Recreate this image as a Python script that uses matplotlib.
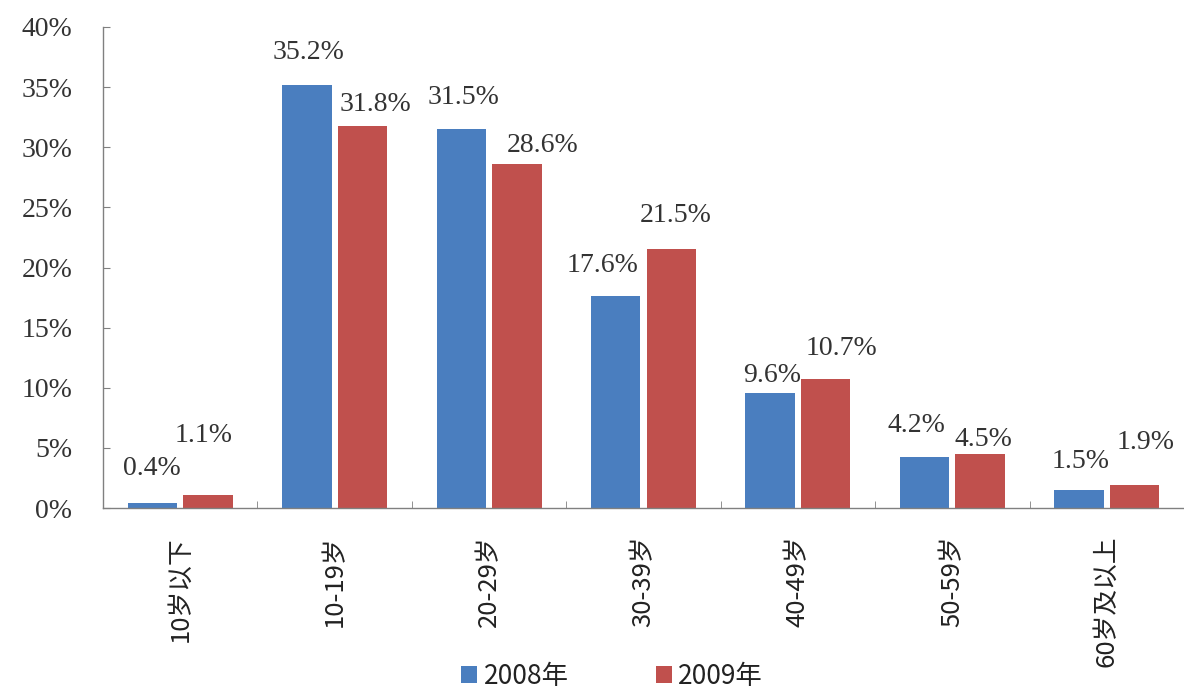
import matplotlib
matplotlib.use("Agg")
import matplotlib.pyplot as plt
import numpy as np
from matplotlib.ticker import FuncFormatter, FixedLocator

categories = ['10岁以下', '10-19岁', '20-29岁', '30-39岁', '40-49岁', '50-59岁', '60岁及以上']
series_names = ['2008年', '2009年']
v2008 = [0.4, 35.2, 31.5, 17.6, 9.6, 4.2, 1.5]
v2009 = [1.1, 31.8, 28.6, 21.5, 10.7, 4.5, 1.9]

# label offsets (pixels: dx from bar centre, dy above bar top)
off2008 = [(-1, 35), (2, 32), (2, 32), (-13, 31), (2, 17), (-8, 32), (2, 28)]
off2009 = [(-4, 59), (13, 21), (26, 19), (4, 34), (16, 31), (3, 14), (11, 43)]

BLUE = '#4a7ebf'
RED = '#c0504d'
SERIF = ['Liberation Serif', 'DejaVu Serif']
SANS = ['Noto Sans CJK SC', 'DejaVu Sans']

dpi = 100
fig = plt.figure(figsize=(11.84, 6.92), dpi=dpi)
fig.patch.set_facecolor('white')

ax = fig.add_axes([103 / 1184, 1 - 508 / 692, 1 - 103 / 1184, (508 - 27) / 692])
ax.patch.set_alpha(0)

x = np.arange(len(categories))
w = 0.32
b1 = ax.bar(x - 0.18, v2008, width=w, color=BLUE, label=series_names[0], zorder=2)
b2 = ax.bar(x + 0.18, v2009, width=w, color=RED, label=series_names[1], zorder=2)

ax.set_xlim(-0.5, len(categories) - 0.5)
ax.set_ylim(0, 40)
ax.yaxis.set_major_locator(FixedLocator(np.arange(0, 41, 5)))
ax.yaxis.set_major_formatter(FuncFormatter(lambda v, p: f'{v:.0f}%'))
ax.set_xticks(x)
ax.set_xticklabels(categories, rotation=90, family=SANS, fontsize=18.5, color='#222222')
ax.tick_params(axis='x', length=0, pad=20)
ax.xaxis.set_minor_locator(FixedLocator(np.arange(0.5, len(categories) - 0.5, 1)))
ax.tick_params(axis='x', which='minor', direction='in', length=5, color='#808080')
ax.tick_params(axis='y', direction='in', length=5, color='#808080', pad=22, labelsize=20,
               labelcolor='#333333')
for lab in ax.get_yticklabels():
    lab.set_family(SERIF)

for s in ['top', 'right']:
    ax.spines[s].set_visible(False)
for s in ['left', 'bottom']:
    ax.spines[s].set_color('#808080')
    ax.spines[s].set_linewidth(1.0)

pt = 72 / dpi
for bars, vals, offs in [(b1, v2008, off2008), (b2, v2009, off2009)]:
    for bar, v, (dx, dy) in zip(bars, vals, offs):
        ax.annotate(f'{v:.1f}%', xy=(bar.get_x() + bar.get_width() / 2, v),
                    xytext=(dx * pt, dy * pt), textcoords='offset points',
                    ha='center', va='center', fontsize=20, family=SERIF, color='#333333',
                    zorder=3)

leg = fig.legend(handles=[b1, b2], labels=series_names, loc='center', bbox_to_anchor=(0.517, 1 - 676 / 692),
                 ncol=2, frameon=False, prop={'family': SANS, 'size': 19},
                 handlelength=0.6, handleheight=0.6, handletextpad=0.25, columnspacing=3.3)
for t in leg.get_texts():
    t.set_color('#222222')

fig.savefig('out.png', dpi=dpi, facecolor='white')
